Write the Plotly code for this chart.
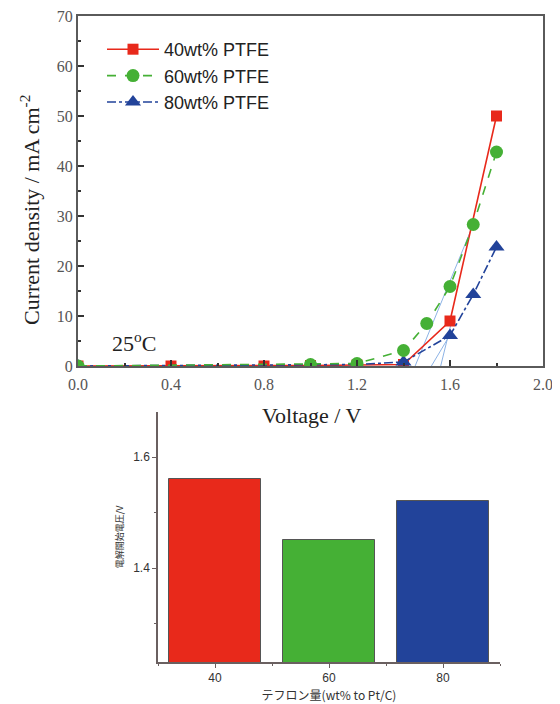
import plotly.graph_objects as go

# ---- top chart data (current density vs voltage) ----
voltage_40 = [0.0, 0.4, 0.8, 1.0, 1.2, 1.4, 1.6, 1.8]
current_40 = [0.0, 0.0, 0.0, 0.1, 0.2, 0.3, 9.0, 50.0]
voltage_60 = [0.0, 1.0, 1.2, 1.4, 1.5, 1.6, 1.7, 1.8]
current_60 = [0.0, 0.3, 0.5, 3.1, 8.5, 15.9, 28.3, 42.8]
voltage_80 = [0.0, 1.0, 1.2, 1.4, 1.6, 1.7, 1.8]
current_80 = [0.0, 0.2, 0.3, 0.8, 6.1, 14.3, 23.8]

# tangent (onset) lines: from onset voltage on the axis up to a point on the curve
tangent_40_x = [1.56, 1.61]
tangent_40_y = [0.0, 9.5]
tangent_60_x = [1.45, 1.70]
tangent_60_y = [0.0, 28.3]
tangent_80_x = [1.52, 1.61]
tangent_80_y = [0.0, 7.0]

series_names = ["40wt% PTFE", "60wt% PTFE", "80wt% PTFE"]

# ---- bottom chart data (onset voltage vs PTFE content) ----
ptfe_content = [40, 60, 80]
onset_voltage = [1.56, 1.45, 1.52]

RED = "#E8291B"
GREEN = "#45B035"
BLUE = "#22439A"
TAN = "#8DB3E6"

OFF = 8
W, H = 560 - OFF, 704 - OFF


def px(x):
    return (x - OFF) / W


def py(y):
    return 1 - (y - OFF) / H


fig = go.Figure()

# tangent lines
for tx, ty in [(tangent_40_x, tangent_40_y), (tangent_60_x, tangent_60_y), (tangent_80_x, tangent_80_y)]:
    fig.add_trace(go.Scatter(x=tx, y=ty, mode="lines", line=dict(color=TAN, width=1),
                             showlegend=False, hoverinfo="skip", xaxis="x", yaxis="y"))

fig.add_trace(go.Scatter(x=voltage_40, y=current_40, name=series_names[0], mode="lines+markers",
                         line=dict(color=RED, width=1.6),
                         marker=dict(symbol="square", size=11, color=RED),
                         legendrank=1, legendgroup="a", xaxis="x", yaxis="y"))
fig.add_trace(go.Scatter(x=voltage_80, y=current_80, name=series_names[2], mode="lines+markers",
                         line=dict(color=BLUE, width=1.6, dash="dashdot"),
                         marker=dict(symbol="triangle-up", size=14, color=BLUE),
                         legendrank=3, legendgroup="c", xaxis="x", yaxis="y"))
fig.add_trace(go.Scatter(x=voltage_60, y=current_60, name=series_names[1], mode="lines+markers",
                         line=dict(color=GREEN, width=1.6, dash="dash"),
                         marker=dict(symbol="circle", size=13, color=GREEN),
                         legendrank=2, legendgroup="b", xaxis="x", yaxis="y"))

# bars
fig.add_trace(go.Bar(x=ptfe_content, y=onset_voltage, width=16.3,
                     marker=dict(color=[RED, GREEN, BLUE], line=dict(color="#555555", width=1)),
                     showlegend=False, xaxis="x2", yaxis="y2"))

serif = "Liberation Serif"
sans = "Liberation Sans"
axis_col = "#5a5a5a"

fig.update_layout(
    width=W, height=H,
    margin=dict(l=0, r=0, t=0, b=0, autoexpand=False),
    paper_bgcolor="white", plot_bgcolor="white",
    showlegend=True,
    legend=dict(x=px(102), y=py(31), xanchor="left", yanchor="top",
                font=dict(family=sans, size=18, color="#222222"),
                bgcolor="rgba(0,0,0,0)", traceorder="grouped", tracegroupgap=0,
                itemwidth=52),
    xaxis=dict(domain=[px(78), px(543)], range=[0, 2.0], dtick=0.4, tickformat=".1f",
               anchor="y", showline=True, linecolor=axis_col, linewidth=2, mirror=True,
               automargin=False, ticklabeloverflow="allow",
               ticks="inside", ticklen=6, tickwidth=1.5, tickcolor="#333333",
               minor=dict(dtick=0.2, ticks="inside", ticklen=3, tickcolor="#333333"),
               showgrid=False, zeroline=False, ticklabelstandoff=3,
               tickfont=dict(family=serif, size=16, color="#555555")),
    yaxis=dict(domain=[py(366), py(16)], range=[0, 70], dtick=10,
               anchor="x", showline=True, linecolor=axis_col, linewidth=2, mirror=True,
               automargin=False, ticklabeloverflow="allow",
               ticks="inside", ticklen=6, tickwidth=1.5, tickcolor="#333333",
               minor=dict(dtick=5, ticks="inside", ticklen=3, tickcolor="#333333"),
               showgrid=False, zeroline=False,
               tickfont=dict(family=serif, size=16, color="#555555")),
    xaxis2=dict(domain=[px(158), px(500)], range=[30, 90], tickvals=ptfe_content,
                anchor="y2", showline=True, linecolor="#6a6060", linewidth=1.5, mirror=False,
                automargin=False, ticklabeloverflow="allow",
                ticks="outside", ticklen=4, tickcolor="#6a6060",
                minor=dict(dtick=10, ticks="outside", ticklen=2, tickcolor="#6a6060"),
                showgrid=False, zeroline=False,
                tickfont=dict(family=sans, size=12, color="#333333"),
                title=dict(text="テフロン量(wt% to Pt/C)",
                           font=dict(family="Noto Sans CJK JP", size=12, color="#333333"), standoff=7)),
    yaxis2=dict(domain=[py(662), py(412)], range=[1.231, 1.681], tickvals=[1.4, 1.6],
                tickformat=".1f", anchor="x2", showline=True, linecolor="#6a6060", linewidth=1.5,
                automargin=False, ticklabeloverflow="allow",
                ticks="outside", ticklen=4, tickcolor="#6a6060",
                minor=dict(dtick=0.1, ticks="outside", ticklen=2, tickcolor="#6a6060"),
                showgrid=False, zeroline=False,
                tickfont=dict(family=sans, size=12, color="#333333"),
                title=dict(text="電解開始電圧/V",
                           font=dict(family="Noto Sans CJK JP", size=9, color="#333333"), standoff=8)),
    bargap=0,
)

fig.add_annotation(text="Current density / mA cm<sup>-2</sup>", x=px(30), y=py(210),
                   xref="paper", yref="paper", textangle=-90,
                   showarrow=False, xanchor="center", yanchor="middle",
                   font=dict(family=serif, size=22, color="#222222"))
fig.add_annotation(text="Voltage / V", x=px(312), y=py(416), xref="paper", yref="paper",
                   showarrow=False, xanchor="center", yanchor="middle",
                   font=dict(family=serif, size=22, color="#222222"))
fig.add_annotation(text="25<sup>o</sup>C", x=px(134), y=py(342), xref="paper", yref="paper",
                   showarrow=False, xanchor="center", yanchor="middle",
                   font=dict(family=serif, size=22, color="#222222"))

fig.write_html("out.html")
